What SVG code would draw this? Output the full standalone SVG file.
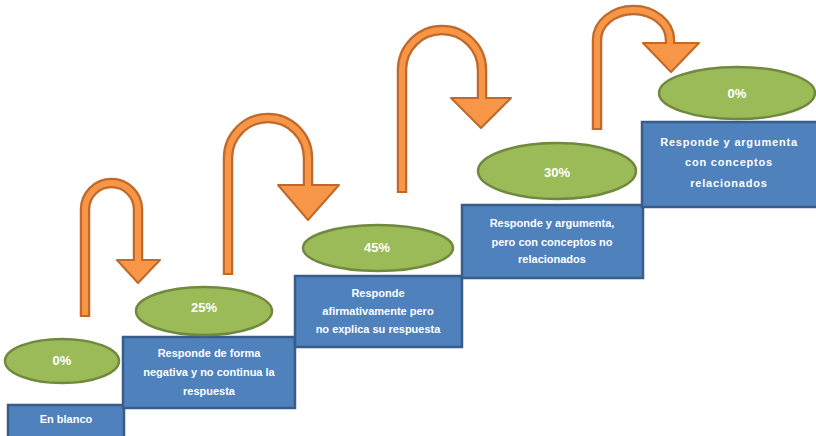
<svg xmlns="http://www.w3.org/2000/svg" width="816" height="436" viewBox="0 0 816 436">
<style>
.box{fill:#4F81BD;stroke:#385D8A;stroke-width:2.5}
.ell{fill:#9BBB59;stroke:#71893F;stroke-width:2.5}
.bt{font-family:"Liberation Sans",Arial,sans-serif;font-size:11px;font-weight:bold;fill:#ffffff;text-anchor:middle}
.pt{font-family:"Liberation Sans",Arial,sans-serif;font-size:13px;font-weight:bold;fill:#ffffff;text-anchor:middle}
.sd{fill:none;stroke:#C0692A;stroke-width:10.5}
.sl{fill:none;stroke:#F79646;stroke-width:6}
.hd{fill:#F79646;stroke:#C0692A;stroke-width:2;stroke-linejoin:round}
</style>
<rect width="816" height="436" fill="#ffffff"/>
<g id="connectors">
<g id="arrow1">
<path class="sd" d="M85,317 L85,209.5 A26.5,26.5 0 0 1 138,209.5 L138,261"/>
<polygon class="hd" points="117,260 160,260 138,283"/>
<path class="sl" d="M85,315 L85,209.5 A26.5,26.5 0 0 1 138,209.5 L138,263"/>
</g>
<g id="arrow2">
<path class="sd" d="M228,275 L228,158 A40,40 0 0 1 308,158 L308,186"/>
<polygon class="hd" points="278,185 339,185 308,220"/>
<path class="sl" d="M228,273 L228,158 A40,40 0 0 1 308,158 L308,188"/>
</g>
<g id="arrow3">
<path class="sd" d="M402,193 L402,70 A40,40 0 0 1 482,70 L482,99"/>
<polygon class="hd" points="451,98 511,98 481,128"/>
<path class="sl" d="M402,191 L402,70 A40,40 0 0 1 482,70 L482,101"/>
</g>
<g id="arrow4">
<path class="sd" d="M597,130 L597,40 A36.5,30 0 0 1 670,40 L670,44"/>
<polygon class="hd" points="643,43 699,43 671,72"/>
<path class="sl" d="M597,128 L597,40 A36.5,30 0 0 1 670,40 L670,46"/>
</g>
</g>
<g id="step1">
<rect class="box" x="8" y="405" width="116" height="36"/>
<text class="bt" x="66" y="423">En blanco</text>
</g>
<g id="step2">
<rect class="box" x="123" y="337" width="172" height="71"/>
<text class="bt" x="209" y="357">Responde de forma</text>
<text class="bt" x="209" y="376">negativa y no continua la</text>
<text class="bt" x="209" y="395">respuesta</text>
</g>
<g id="step3">
<rect class="box" x="295" y="276" width="167" height="71"/>
<text class="bt" x="378" y="297">Responde</text>
<text class="bt" x="378" y="315">afirmativamente pero</text>
<text class="bt" x="378" y="333">no explica su respuesta</text>
</g>
<g id="step4">
<rect class="box" x="462" y="205" width="181" height="73"/>
<text class="bt" x="552" y="227">Responde y argumenta,</text>
<text class="bt" x="552" y="246">pero con conceptos no</text>
<text class="bt" x="552" y="263">relacionados</text>
</g>
<g id="step5">
<rect class="box" x="642" y="122" width="176" height="85"/>
<text class="bt" x="729" y="146" letter-spacing="0.8">Responde y argumenta</text>
<text class="bt" x="729" y="166" letter-spacing="0.8">con conceptos</text>
<text class="bt" x="729" y="187" letter-spacing="0.8">relacionados</text>
</g>
<g id="pct1">
<ellipse class="ell" cx="62" cy="361" rx="57" ry="22"/>
<text class="pt" x="62" y="365">0%</text>
</g>
<g id="pct2">
<ellipse class="ell" cx="204" cy="311" rx="68" ry="24"/>
<text class="pt" x="204" y="312">25%</text>
</g>
<g id="pct3">
<ellipse class="ell" cx="378" cy="248" rx="75" ry="23"/>
<text class="pt" x="377" y="252">45%</text>
</g>
<g id="pct4">
<ellipse class="ell" cx="557" cy="171" rx="79" ry="28"/>
<text class="pt" x="557" y="177">30%</text>
</g>
<g id="pct5">
<ellipse class="ell" cx="737" cy="93" rx="78" ry="26"/>
<text class="pt" x="737" y="98">0%</text>
</g>
</svg>
